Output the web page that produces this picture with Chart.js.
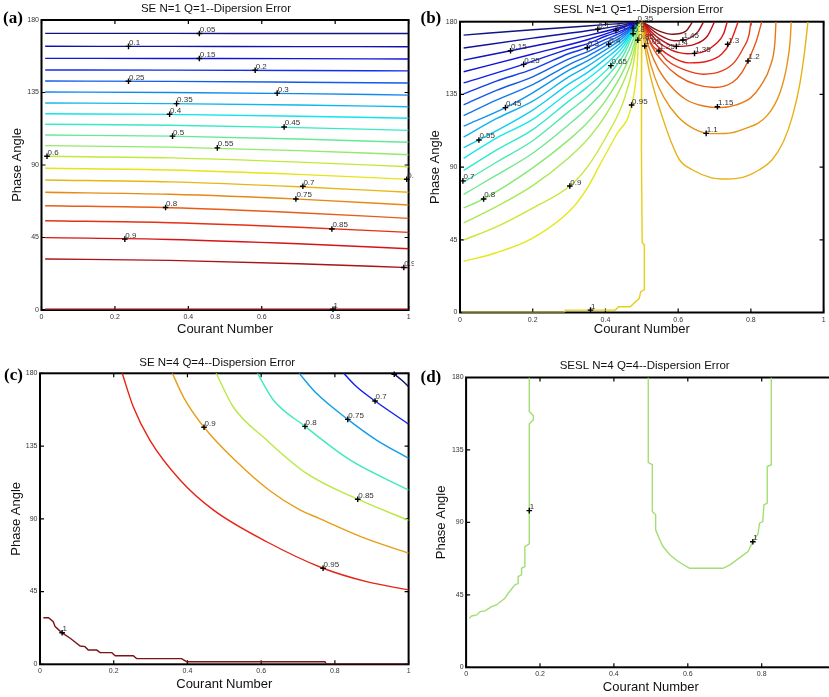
<!DOCTYPE html>
<html><head><meta charset="utf-8">
<script src="https://cdn.jsdelivr.net/npm/chart.js@4.4.1/dist/chart.umd.min.js"></script>
<style>
html,body{margin:0;padding:0;background:#fff;overflow:hidden;width:829px;height:697px}
#wrap{position:relative;width:829px;height:697px;overflow:hidden;background:#fff}
canvas{position:absolute}
</style></head><body><div id="wrap">
<canvas id="ca" width="414" height="340" style="left:0;top:0"></canvas>
<canvas id="cb" width="414" height="340" style="left:415px;top:0"></canvas>
<canvas id="cc" width="414" height="352" style="left:0;top:345px"></canvas>
<canvas id="cd" width="426" height="352" style="left:415px;top:345px"></canvas>
</div>
<script>
// ---------- tick labels ----------
const xTickLabels = ['0','0.2','0.4','0.6','0.8','1'];
const yTickLabels = ['0','45','90','135','180'];

// ---------- (a) SE N=1 Q=1 : contours read at fixed Courant numbers ----------
const aLevels = [0.05,0.1,0.15,0.2,0.25,0.3,0.35,0.4,0.45,0.5,0.55,0.6,0.65,0.7,0.75,0.8,0.85,0.9,0.95,1.0];
const aX = [0.01, 0.35, 0.7, 1.0];
const aDeg = [
 [171.7,171.7,171.6,171.6],
 [163.7,163.6,163.5,163.4],
 [156.2,156.1,156.0,155.8],
 [149.0,148.9,148.7,148.4],
 [142.1,141.9,141.4,140.9],
 [135.3,135.0,134.3,133.4],
 [128.5,128.1,127.2,126.2],
 [121.8,121.4,120.3,119.0],
 [115.3,114.7,113.2,111.5],
 [108.6,107.9,106.1,104.1],
 [102.0,101.1,98.9,96.4],
 [95.4,94.4,91.8,88.9],
 [88.0,86.9,84.2,81.1],
 [80.7,79.5,76.5,73.1],
 [73.1,71.8,68.8,65.2],
 [64.7,63.5,60.4,56.9],
 [55.4,54.2,51.4,48.2],
 [44.9,43.8,41.1,38.0],
 [31.7,30.8,28.7,26.3],
 [0.5,0.5,0.5,0.5]
];
const aLabels = [
 ['0.05',0.43,171.6],['0.1',0.237,163.6],['0.15',0.43,156.1],['0.2',0.582,148.8],['0.25',0.237,142.0],
 ['0.3',0.642,134.6],['0.35',0.368,128.1],['0.4',0.349,121.5],['0.45',0.661,113.6],['0.5',0.357,107.9],
 ['0.55',0.479,100.6],['0.6',0.015,95.4],['0.65',0.995,81.2],['0.7',0.712,76.8],['0.75',0.693,68.9],
 ['0.8',0.338,63.6],['0.85',0.791,50.3],['0.9',0.227,44.0],['0.95',0.987,26.4],['1',0.794,0.5]
];

// ---------- (b) SESL N=1 Q=1 : contour traces [x, deg] ----------
const bLevels = [0.05,0.1,0.15,0.2,0.25,0.3,0.35,0.4,0.45,0.5,0.55,0.6,0.65,0.7,0.75,0.8,0.85,0.9,0.95,
                 1.05,1.1,1.15,1.2,1.25,1.3,1.35,1.4,1.45,1.5];
const bCurves = [
 [[0.01,171.7],[0.2,175],[0.35,177.3],[0.45,179.1],[0.49,180]],
 [[0.01,163.7],[0.2,169.8],[0.379,175.3],[0.45,178],[0.49,180]],
 [[0.01,156.2],[0.139,162],[0.2,164.8],[0.35,171.4],[0.45,177],[0.49,180]],
 [[0.01,149],[0.2,160],[0.35,168.8],[0.429,174.6],[0.49,180]],
 [[0.01,142.1],[0.175,153.6],[0.3,163.2],[0.35,166.3],[0.4,171],[0.45,175],[0.49,180]],
 [[0.01,135.3],[0.1,143.2],[0.2,150.6],[0.3,160.3],[0.35,163.9],[0.4,169],[0.45,174],[0.49,180]],
 [[0.01,128.5],[0.1,137.5],[0.2,145.9],[0.3,157],[0.35,161.3],[0.4,167],[0.45,172.8],[0.49,180]],
 [[0.01,121.9],[0.1,131.5],[0.2,141],[0.3,153.5],[0.35,158.6],[0.409,166],[0.45,171.6],[0.49,180]],
 [[0.01,115.3],[0.125,126.8],[0.2,136],[0.3,150],[0.35,155.7],[0.4,162.6],[0.45,170.3],[0.49,180]],
 [[0.01,108.6],[0.1,120],[0.2,130.8],[0.3,146],[0.35,152.3],[0.4,160],[0.45,168.7],[0.49,180]],
 [[0.01,102],[0.052,106.8],[0.2,125.3],[0.3,141.5],[0.35,148.5],[0.4,157],[0.45,167],[0.49,180]],
 [[0.01,95.4],[0.1,108],[0.2,119.5],[0.3,136.5],[0.35,144.5],[0.4,153.5],[0.45,165],[0.49,180]],
 [[0.01,87.9],[0.1,100.5],[0.2,113.2],[0.3,131],[0.35,139.5],[0.415,152.8],[0.45,162.5],[0.49,180]],
 [[0.01,80.7],[0.1,93],[0.2,106.3],[0.3,124.5],[0.35,133.5],[0.4,145],[0.45,159.5],[0.49,180]],
 [[0.01,73.1],[0.1,85],[0.2,98.6],[0.3,116.5],[0.35,126.5],[0.4,138.5],[0.45,155.5],[0.475,168],[0.49,180]],
 [[0.01,64.7],[0.065,70.3],[0.2,89.5],[0.3,107],[0.35,117.5],[0.4,131],[0.45,150],[0.48,167],[0.49,180]],
 [[0.01,55.4],[0.1,65.5],[0.2,78.5],[0.3,96],[0.35,107],[0.4,122],[0.45,143],[0.48,163],[0.491,180]],
 [[0.01,44.9],[0.1,53],[0.2,64.6],[0.302,78.3],[0.35,90],[0.4,108],[0.45,131],[0.478,155],[0.492,180]],
 [[0.01,31.7],[0.1,37],[0.2,46],[0.304,63.4],[0.35,77],[0.386,92],[0.43,110],[0.472,128.4],[0.487,152],[0.493,180]],
 [[0.5,180],[0.508,165],[0.52,150],[0.537,135],[0.558,120],[0.58,106],[0.604,94.4],[0.64,88.2],[0.69,83.5],[0.731,82.6],[0.78,83.8],[0.822,88.2],[0.858,94.4],[0.89,106],[0.915,122],[0.935,142],[0.948,162],[0.957,180]],
 [[0.5,180],[0.515,162],[0.535,146],[0.56,133.5],[0.6,121],[0.645,113.5],[0.69,110.7],[0.73,110.8],[0.78,113.5],[0.845,122],[0.881,136.7],[0.899,153],[0.908,168],[0.911,180]],
 [[0.5,180],[0.52,164],[0.545,151],[0.58,140],[0.62,132],[0.67,127.8],[0.715,126.8],[0.76,128.5],[0.8,133],[0.826,140],[0.854,153],[0.866,167],[0.869,180]],
 [[0.5,180],[0.525,166],[0.56,154.5],[0.6,146.5],[0.65,141],[0.7,139.3],[0.75,142.5],[0.775,148.5],[0.792,155.7],[0.815,168],[0.83,180]],
 [[0.5,180],[0.53,165],[0.547,161.9],[0.57,156],[0.62,150],[0.67,147.5],[0.72,149.5],[0.755,155],[0.78,164],[0.795,172],[0.8,180]],
 [[0.5,180],[0.535,167],[0.58,158.5],[0.63,154.5],[0.68,155.5],[0.72,160],[0.745,168],[0.765,180]],
 [[0.5,180],[0.54,168.5],[0.58,162.5],[0.625,160.2],[0.67,161.5],[0.705,166.5],[0.725,172.5],[0.735,180]],
 [[0.5,180],[0.545,170],[0.595,164.7],[0.645,166],[0.68,171],[0.7,180]],
 [[0.5,180],[0.55,171.5],[0.59,168.2],[0.625,169.2],[0.655,174],[0.67,180]],
 [[0.5,180],[0.55,174],[0.585,172.2],[0.62,174],[0.64,180]]
];
const bUnitCurve = [[0.5,180],[0.499,100],[0.501,43.3],[0.507,41.8],[0.507,14],[0.497,12.9],[0.493,8.8],[0.468,3.6],[0.436,3.6],[0.427,1.5],[0.29,1.5],[0.286,0],[0.005,0]];
const bLabels = [
 ['0.1',0.379,175.3],['0.2',0.429,174.6],['0.15',0.139,162],['0.25',0.175,153.6],['0.3',0.35,163.9],['0.4',0.409,166],
 ['0.35',0.487,179.3],['0.6',0.476,176],['0.8',0.476,172.5],['0.65',0.415,152.8],['0.85',0.489,168.6],['1.05',0.508,165],
 ['1.25',0.547,161.9],['0.45',0.125,126.8],['0.55',0.052,106.8],['0.95',0.472,128.4],['1.45',0.613,168.7],['1.4',0.595,164.7],
 ['1.35',0.645,160.4],['1.3',0.736,166],['1.2',0.792,155.7],['1.15',0.708,127.4],['1.1',0.677,110.9],['0.7',0.008,81.5],
 ['0.8',0.065,70.3],['0.9',0.302,78.3],['1',0.359,1.5]
];

// ---------- (c) SE N=4 Q=4 ----------
const cLevels = [0.65,0.7,0.75,0.8,0.85,0.9,0.95,1.0];
const cCurves = [
 [[0.958,180],[0.98,176],[1.0,171.7]],
 [[0.824,180],[0.859,171.7],[0.909,162.9],[1.0,148.6]],
 [[0.703,180],[0.75,167.6],[0.835,151.5],[0.913,138.7],[1.0,127.4]],
 [[0.59,180],[0.633,163.5],[0.719,147.2],[0.841,126.4],[1.0,107.8]],
 [[0.478,180],[0.524,159.3],[0.615,138.7],[0.723,118.1],[0.862,102.1],[1.0,89]],
 [[0.359,180],[0.39,165],[0.445,146.6],[0.53,126],[0.62,108],[0.705,95.5],[0.76,90],[0.87,79],[1.0,68.7]],
 [[0.223,180],[0.253,159.3],[0.298,138.7],[0.38,114],[0.47,95.5],[0.615,75.8],[0.768,59.4],[0.886,51.1],[1.0,46]],
 [[0.009,28.8],[0.023,28.8],[0.036,26.3],[0.041,23.3],[0.059,19.6],[0.082,16.1],[0.109,11.3],[0.122,10.9],[0.131,8.8],[0.154,8.8],[0.163,7.2],[0.195,7.2],[0.204,5.3],[0.253,5.3],[0.262,3.5],[0.384,3.5],[0.398,1.6],[0.773,1.6],[0.777,0],[1.0,0]]
];
const cLabels = [
 ['0.9',0.445,146.6],['0.8',0.719,147.2],['0.75',0.835,151.5],['0.7',0.909,162.9],['0.85',0.862,102.1],
 ['0.95',0.768,59.4],['1',0.06,19.5],['',0.961,179.4]
];

// ---------- (d) SESL N=4 Q=4 : the level-1 contour, two pieces ----------
const dLeft = [[0.171,180],[0.171,158.9],[0.182,156.3],[0.182,153.8],[0.171,151.3],[0.171,76.7],[0.159,75],[0.159,62.5],[0.15,61.5],[0.15,57.4],[0.141,56.4],[0.141,52],[0.132,51.2],[0.114,46],[0.105,42.9],[0.082,38.7],[0.069,37.7],[0.051,35],[0.038,34.6],[0.029,32.5],[0.015,31.9],[0.009,30.5]];
const dMid = [[0.493,180],[0.493,127.2],[0.504,125.8],[0.504,96.8],[0.513,94.7],[0.513,85.4],[0.524,79.2],[0.533,75],[0.552,69.8],[0.574,65.7],[0.605,61.5],[0.695,61.5],[0.714,63.6],[0.763,71.9],[0.774,77.1],[0.79,82.9],[0.794,89.5],[0.803,90.5],[0.806,100.9],[0.815,102],[0.815,124.7],[0.826,125.8],[0.826,180]];
const dLabels = [['1',0.171,97.3],['1',0.776,78]];

// ---------- styling helpers ----------
const SANS = "'Liberation Sans', Arial, Helvetica, sans-serif";
function jet(t){
  const f=v=>Math.max(0,Math.min(1,v));
  const r=f(1.5-Math.abs(4*t-3)), g=f(1.5-Math.abs(4*t-2)), b=f(1.5-Math.abs(4*t-1));
  const m=(c,k)=>Math.round(0.84*255*c+0.16*k);
  return 'rgb('+m(r,105)+','+m(g,118)+','+m(b,135)+')';
}
function lineDS(points, color, smooth){
  return {data: points.map(p=>({x:p[0], y:p[1]})), showLine:true, borderColor:color, borderWidth:1.4,
    pointRadius:0, fill:false, order:1, tension: 0,
    cubicInterpolationMode: smooth ? 'monotone' : 'default'};
}
function markerDS(labels){
  return {data: labels.map(l=>({x:l[1], y:l[2]})), showLine:false, pointStyle:'cross', pointRadius:2.8,
    borderColor:'#000', borderWidth:1.4, order:0, clip:false};
}

const deco = {
  id:'deco',
  beforeDatasetsDraw(chart, args, o){
    const {ctx, chartArea:a} = chart;
    const xs = chart.scales.x, ys = chart.scales.y;
    ctx.save();
    ctx.strokeStyle='#000';
    ctx.lineWidth=1.2;
    ctx.beginPath();
    xs.ticks.forEach(t=>{const p=xs.getPixelForValue(t.value); ctx.moveTo(p,a.bottom); ctx.lineTo(p,a.bottom-4); ctx.moveTo(p,a.top); ctx.lineTo(p,a.top+4);});
    ys.ticks.forEach(t=>{const p=ys.getPixelForValue(t.value); ctx.moveTo(a.left,p); ctx.lineTo(a.left+4,p); ctx.moveTo(a.right,p); ctx.lineTo(a.right-4,p);});
    ctx.stroke();
    ctx.lineWidth=2;
    ctx.strokeRect(a.left, a.top, a.right-a.left, a.bottom-a.top);
    ctx.restore();
  },
  afterDatasetsDraw(chart, args, o){
    const {ctx} = chart;
    ctx.save();
    const meta = chart.getDatasetMeta(0);
    ctx.fillStyle='#333'; ctx.font='8px '+SANS; ctx.textAlign='left'; ctx.textBaseline='alphabetic';
    meta.data.forEach((pt,i)=>{ ctx.fillText(o.labels[i][0], pt.x+0.5, pt.y-1.5); });
    ctx.fillStyle='#111'; ctx.font='11.5px '+SANS; ctx.textAlign='center'; ctx.textBaseline='middle';
    ctx.fillText(o.title, o.tx, o.ty);
    ctx.fillStyle='#000'; ctx.font="bold 17px 'Liberation Serif', 'Times New Roman', serif"; ctx.textAlign='left';
    ctx.fillText(o.letter, o.lx, o.ly);
    ctx.restore();
  }
};

function makePanel(id, g, datasets, labels, txt){
  const ticksFont = {size:7, family:SANS};
  new Chart(document.getElementById(id), {
    type:'scatter',
    data:{datasets:[markerDS(labels)].concat(datasets)},
    options:{
      responsive:false, animation:false, devicePixelRatio:1,
      layout:{padding:{left:0, top:g.T, right:g.W-g.R, bottom:0}},
      plugins:{legend:{display:false}, tooltip:{enabled:false}, title:{display:false},
        deco:{labels:labels, title:txt.title, tx:txt.tx, ty:txt.ty, letter:txt.letter, lx:txt.lx, ly:txt.ly}},
      scales:{
        x:{type:'linear', min:0, max:1, afterFit:s=>{s.height=g.H-g.B;},
          grid:{display:false, drawTicks:false}, border:{display:false},
          ticks:{stepSize:0.2, autoSkip:false, maxRotation:0, padding:3, font:ticksFont, color:'#333',
            callback:(v,i)=>xTickLabels[i]},
          title:{display:true, text:'Courant Number', color:'#111', font:{size:13, family:SANS, lineHeight:1.2},
            padding:{top:0, bottom:txt.xpb}}},
        y:{type:'linear', min:0, max:180, afterFit:s=>{s.width=g.L;},
          grid:{display:false, drawTicks:false}, border:{display:false},
          ticks:{stepSize:45, autoSkip:false, padding:2.5, font:ticksFont, color:'#333',
            callback:(v,i)=>yTickLabels[i]},
          title:{display:true, text:'Phase Angle', color:'#111', font:{size:13, family:SANS, lineHeight:1.2},
            padding:{top:txt.ypt, bottom:0}}}
      }
    },
    plugins:[deco]
  });
}

// (a)
const aDatasets = aLevels.map((lv,i)=>lineDS(aX.map((x,j)=>[x, aDeg[i][j]]), jet((lv-0.05)/0.95), true));
makePanel('ca', {W:414,H:340,L:41.5,T:20,R:410,B:310}, aDatasets, aLabels,
  {title:'SE N=1 Q=1--Dipersion Error', tx:216, ty:8.5, letter:'(a)', lx:3, ly:19, xpb:2.7, ypt:9.2});

// (b)
const bDatasets = bLevels.map((lv,i)=>lineDS(bCurves[i], jet((lv-0.05)/1.45), true));
bDatasets.push(lineDS(bUnitCurve, jet((1.0-0.05)/1.45), false));
makePanel('cb', {W:414,H:340,L:45,T:21.7,R:412,B:312.5}, bDatasets, bLabels,
  {title:'SESL N=1 Q=1--Dispersion Error', tx:223.3, ty:10, letter:'(b)', lx:5.5, ly:19, xpb:3.2, ypt:12.2});

// (c)
const cDatasets = cLevels.map((lv,i)=>lineDS(cCurves[i], jet((lv-0.65)/0.35), lv<1));
makePanel('cc', {W:414,H:352,L:40,T:28.3,R:408.7,B:319.3}, cDatasets, cLabels,
  {title:'SE N=4 Q=4--Dispersion Error', tx:217.2, ty:18.3, letter:'(c)', lx:4, ly:30.5, xpb:5.2, ypt:9});

// (d)
const dDatasets = [lineDS(dLeft,'#a3de74',false), lineDS(dMid,'#a3de74',false)];
makePanel('cd', {W:426,H:352,L:51.1,T:32.5,R:420.6,B:322.3}, dDatasets, dLabels,
  {title:'SESL N=4 Q=4--Dispersion Error', tx:229.7, ty:20.7, letter:'(d)', lx:5.5, ly:32.2, xpb:1.7, ypt:18.9});
</script>
</body></html>
